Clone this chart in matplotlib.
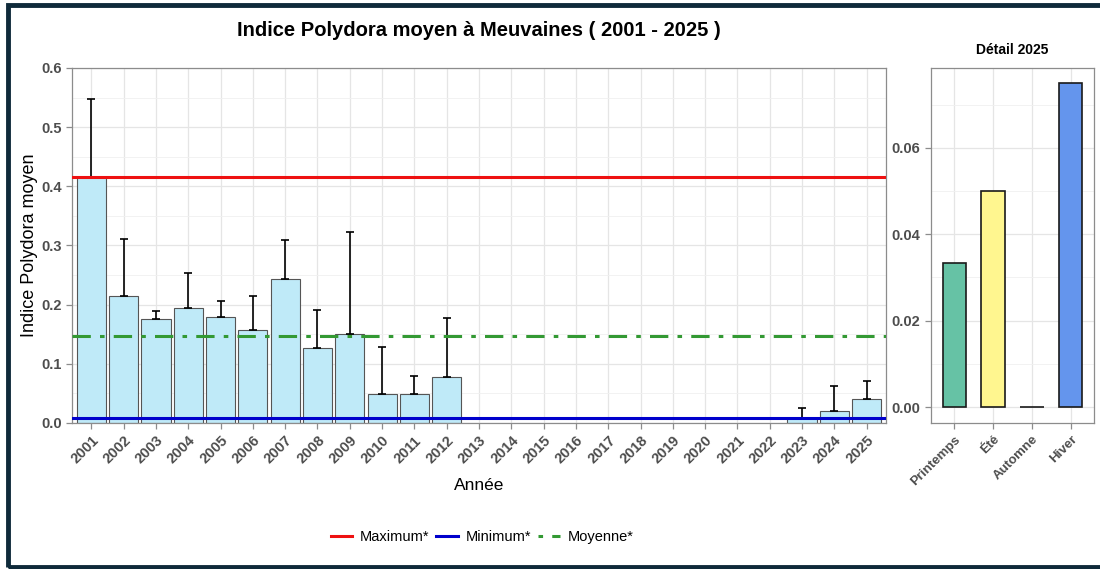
import numpy as np
import matplotlib.pyplot as plt
from matplotlib.lines import Line2D
from matplotlib.patches import Rectangle

plt.rcParams['font.family'] = ['Liberation Sans', 'DejaVu Sans']

# données annuelles
annees = [str(a) for a in range(2001, 2026)]
moyennes = [0.4165, 0.215, 0.175, 0.1937, 0.1795, 0.157, 0.2438, 0.126, 0.1496,
            0.0497, 0.0497, 0.0774, np.nan, np.nan, np.nan, np.nan, np.nan, np.nan,
            np.nan, np.nan, np.nan, np.nan, 0.008, 0.0208, 0.040]
ecarts = [0.1305, 0.0955, 0.015, 0.0593, 0.0275, 0.0575, 0.0652, 0.065, 0.1732,
          0.0783, 0.030, 0.1004, np.nan, np.nan, np.nan, np.nan, np.nan, np.nan,
          np.nan, np.nan, np.nan, np.nan, 0.018, 0.0422, 0.0315]
maximum = 0.4165
minimum = 0.008
moyenne = 0.1473

# détail 2025
saisons = ['Printemps', 'Été', 'Automne', 'Hiver']
valeurs_saison = [0.0333, 0.050, 0.0, 0.075]
couleurs_saison = ['#66c2a5', '#fff68f', '#a6a6a6', '#6495ed']

fig = plt.figure(figsize=(11, 5.69), dpi=100)

ax = fig.add_axes([72 / 1100, 1 - 423 / 569, 814 / 1100, 355 / 569])
ax2 = fig.add_axes([931 / 1100, 1 - 423 / 569, 163 / 1100, 355 / 569])

gris = '#4d4d4d'

def style_axe(a, taille=10.5):
    a.set_facecolor('white')
    a.grid(True, which='major', color='#e5e5e5', lw=0.9, zorder=0)
    a.grid(True, which='minor', color='#f0f0f0', lw=0.6, zorder=0)
    a.set_axisbelow(True)
    for s in a.spines.values():
        s.set_color('#8c8c8c')
        s.set_linewidth(0.9)
    a.tick_params(axis='both', colors='#8c8c8c', length=4, width=0.9,
                  labelcolor=gris, labelsize=taille)
    a.tick_params(axis='both', which='minor', length=0)
    for lab in a.get_xticklabels() + a.get_yticklabels():
        lab.set_fontweight('bold')

x = np.arange(len(annees))
m = np.array(moyennes)
e = np.array(ecarts)
ok = ~np.isnan(m)
ax.bar(x[ok], m[ok], width=0.9, color='#bfeaf8', edgecolor='#555555', lw=0.8, zorder=2)
ax.errorbar(x[ok], m[ok], yerr=[np.zeros(ok.sum()), e[ok]], fmt='none',
            ecolor='black', elinewidth=1.2, capsize=3, capthick=1.2, zorder=3)
ax.axhline(maximum, color='#ee1111', lw=2.2, zorder=4)
ax.axhline(minimum, color='#0000cc', lw=2.2, zorder=4)
ax.axhline(moyenne, color='#339933', lw=2.2, ls=(0, (6, 3, 1.5, 3)), zorder=4)
ax.set_xlim(-0.6, len(annees) - 0.4)
ax.set_ylim(0, 0.6)
ax.set_xticks(x)
ax.set_xticklabels(annees, rotation=45, ha='right', va='top', rotation_mode='anchor')
ax.set_yticks(np.arange(0, 0.61, 0.1))
ax.set_yticklabels(['0.0', '0.1', '0.2', '0.3', '0.4', '0.5', '0.6'])
ax.set_yticks(np.arange(0.05, 0.6, 0.1), minor=True)
ax.set_ylabel('Indice Polydora moyen', fontsize=13, color='black', va='center')
ax.yaxis.set_label_coords(-42 / 814, 0.5)
ax.set_xlabel('Année', fontsize=12.5, color='black', labelpad=8)
style_axe(ax)
ax.set_title('Indice Polydora moyen à Meuvaines ( 2001 - 2025 )', fontsize=14.5,
             fontweight='bold', x=0.5, pad=0, y=1.0)
ax.title.set_position((0.5, 1.09))

xs = np.arange(len(saisons))
ax2.bar(xs, valeurs_saison, width=0.6, color=couleurs_saison, edgecolor='#1a1a1a',
        lw=1.2, zorder=2)
ax2.set_xlim(-0.6, len(saisons) - 0.4)
ax2.set_ylim(-0.0037, 0.0785)
ax2.set_xticks(xs)
ax2.set_xticklabels(saisons, rotation=45, ha='right', va='top', rotation_mode='anchor')
ax2.set_yticks([0.0, 0.02, 0.04, 0.06])
ax2.set_yticklabels(['0.00', '0.02', '0.04', '0.06'])
ax2.set_yticks([0.01, 0.03, 0.05, 0.07], minor=True)
style_axe(ax2)
for lab in ax2.get_xticklabels():
    lab.set_fontsize(9.5)
ax2.set_title('Détail 2025', fontsize=10, fontweight='bold', pad=10)

handles = [Line2D([], [], color='#ee1111', lw=2.2),
           Line2D([], [], color='#0000cc', lw=2.2),
           Line2D([], [], color='#339933', lw=2.2, ls=(0, (1.5, 3, 4, 3)))]
fig.legend(handles, ['Maximum*', 'Minimum*', 'Moyenne*'], loc='center',
           bbox_to_anchor=(482 / 1100, 1 - 537 / 569), ncol=3, frameon=False,
           fontsize=10.5, handlelength=1.5, columnspacing=0.5, handletextpad=0.5)

# cadre
fig.patches.append(Rectangle((8 / 1100, 2 / 569), 1.1, 1 - 7 / 569,
                             transform=fig.transFigure, fill=False,
                             edgecolor='#0f2a3a', lw=3.5, zorder=10))

fig.savefig('out.png', dpi=100)
